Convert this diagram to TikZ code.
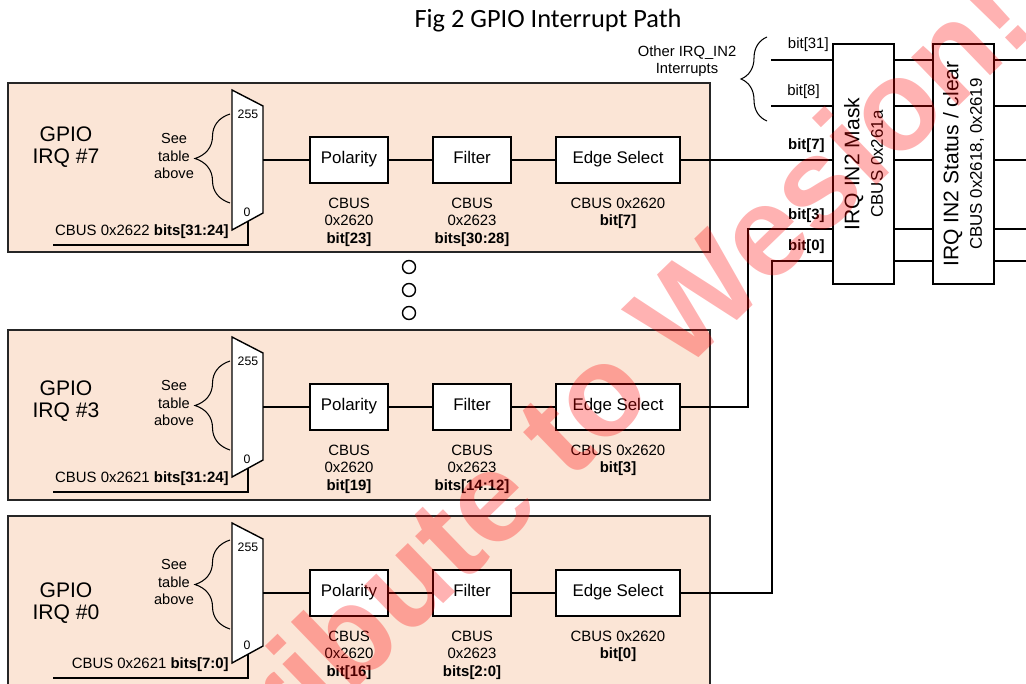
\documentclass[tikz,border=0pt]{standalone}
\usepackage{fontspec}
\setmainfont{Liberation Sans}
\newfontfamily\titlefont{Carlito}
\usetikzlibrary{calc, positioning, decorations.pathreplacing}
\definecolor{gpiofill}{HTML}{FBE5D6}
\definecolor{wmred}{HTML}{FF0000}
\tikzset{
  gpioframe/.style = {draw=black!85, line width=0.9pt, fill=gpiofill},
  stagebox/.style  = {draw, fill=white, line width=0.8pt, minimum height=0.92cm,
                      inner sep=0pt, text height=7pt, text depth=3.5pt,
                      font=\fontsize{9.6}{11}\selectfont},
  ctlbox/.style    = {draw, fill=white, line width=0.8pt, minimum width=1.22cm,
                      minimum height=4.8cm, inner sep=0pt},
  ctltext/.style   = {align=center, inner sep=0pt, rotate=90,
                      font=\fontsize{12}{13.3}\selectfont},
  muxshape/.style  = {draw, fill=white, line width=0.8pt, line join=miter},
  muxnum/.style    = {font=\fontsize{7}{8}\selectfont, inner sep=0pt},
  gpiolabel/.style = {align=center, inner sep=0pt, font=\fontsize{12}{12.5}\selectfont},
  seetext/.style   = {align=center, inner sep=0pt, font=\fontsize{8.3}{10.2}\selectfont},
  regtext/.style   = {align=center, inner sep=0pt, font=\fontsize{8.5}{9.9}\selectfont},
  seltext/.style   = {inner sep=0pt, font=\fontsize{8.5}{10}\selectfont},
  bitlab/.style    = {inner sep=0pt, font=\fontsize{8.5}{10}\selectfont},
  bracepen/.style  = {line width=0.6pt, decorate},
  wire/.style      = {line width=0.75pt},
  dotmark/.style   = {circle, draw, line width=0.8pt, minimum size=0.26cm, inner sep=0pt},
  titletext/.style = {inner sep=0pt, font=\titlefont\fontsize{15}{18}\selectfont},
  watermark/.style = {inner sep=0pt, text=wmred, text opacity=0.3,
                      font=\fontsize{73}{80}\selectfont\bfseries},
}

\begin{document}
\begin{tikzpicture}[x=0.02cm, y=-0.02cm]
  \useasboundingbox (0,0) rectangle (1026,683);
  \node[titletext] (title) at (548,21) {Fig 2 GPIO Interrupt Path};

  % one row per GPIO interrupt
  \foreach \r/\oy/\h/\gy/\by/\sel/\pb/\fb/\eb in {
      7/0/169/0/0/{CBUS 0x2622 \textbf{bits[31:24]}}/bit[23]/bits[30:28]/bit[7],
      3/247/170/7/0/{CBUS 0x2621 \textbf{bits[31:24]}}/bit[19]/bits[14:12]/bit[3],
      0/433/260/23/-7/{CBUS 0x2621 \textbf{bits[7:0]}}/bit[16]/bits[2:0]/bit[0]}
  {
    \draw[gpioframe] (8,83+\oy) rectangle (710,83+\oy+\h);
    \node[gpiolabel] (gpio\r) at (66,147+\oy+\gy) {GPIO\\IRQ \#\r};
    \node[seetext] (see\r) at (174,156+\oy+\by) {See\\table\\above};
    \draw[bracepen, decoration={brace, amplitude=0.7cm}]
      (230,203+\oy+\by) -- (230,114+\oy+\by);
    \draw[muxshape] (232,90+\oy) -- (263,106+\oy) -- (263,213+\oy)
      -- (232,230+\oy) -- cycle;
    \node[muxnum] (hi\r) at (248,114+\oy) {255};
    \node[muxnum] (lo\r) at (247,212+\oy) {0};
    \coordinate (muxout\r) at (263,160+\oy);
    \coordinate (muxsel\r) at (248,221+\oy);
    \coordinate (selend\r) at (53,245+\oy);
    \node[seltext, anchor=east] (sel\r) at (229,232+\oy) {\sel};
    \node[stagebox, minimum width=1.56cm] (pol\r)  at (349,160+\oy) {Polarity};
    \node[stagebox, minimum width=1.56cm] (fil\r)  at (472,160+\oy) {Filter};
    \node[stagebox, minimum width=2.48cm] (edge\r) at (618,160+\oy) {Edge Select};
    \draw[wire] (muxout\r) -- (pol\r);
    \draw[wire] (pol\r) -- (fil\r);
    \draw[wire] (fil\r) -- (edge\r);
    \draw[wire] (muxsel\r) |- (selend\r);
    \node[regtext, below=0.28cm of pol\r]  (polreg\r)  {CBUS\\0x2620\\\textbf{\pb}};
    \node[regtext, below=0.28cm of fil\r]  (filreg\r)  {CBUS\\0x2623\\\textbf{\fb}};
    \node[regtext, below=0.28cm of edge\r] (edgereg\r) {CBUS 0x2620\\\textbf{\eb}};
  }
  \foreach \y [count=\k] in {267,290,313}
    {\node[dotmark] (more\k) at (409,\y) {};}

  \node[ctlbox] (mask) at (863.5,164) {};
  \node[ctlbox] (stat) at (963.5,164) {};
  \node[ctltext] (masktxt) at (mask.center)
    {IRQ IN2 Mask\\{\fontsize{9.6}{11}\selectfont CBUS 0x261a}};
  \node[ctltext] (stattxt) at (stat.center)
    {IRQ IN2 Status / clear\\{\fontsize{9.6}{11}\selectfont CBUS 0x2618, 0x2619}};

  \coordinate (oth31) at (771,60);
  \coordinate (oth8)  at (771,106);
  \draw[wire] (oth31) -- (oth31 -| mask.west);
  \draw[wire] (oth8) -- (oth8 -| mask.west);
  \draw[bracepen, decoration={brace, amplitude=0.52cm}] (767,121) -- (767,37);
  \node[seetext, font=\fontsize{8.4}{9.6}\selectfont] (other) at (687,61)
    {Other IRQ\_IN2\\Interrupts};

  \coordinate (jog3) at (748,229);
  \coordinate (jog0) at (772,261);
  \draw[wire] (edge7) -- (edge7 -| mask.west);
  \draw[wire] (edge3.east) -| (jog3) -- (jog3 -| mask.west);
  \draw[wire] (edge0.east) -| (jog0) -- (jog0 -| mask.west);

  \foreach \y [count=\i] in {60,106,160,229,261}
  {
    \coordinate (lv\i) at (1026,\y);
    \draw[wire] (mask.east |- lv\i) -- (stat.west |- lv\i);
    \draw[wire] (stat.east |- lv\i) -- (lv\i);
  }

  \node[bitlab, anchor=east] (b31) at (829,45)  {bit[31]};
  \node[bitlab, anchor=east] (b8)  at (820,92)  {bit[8]};
  \node[bitlab, anchor=east] (b7)  at (825,146) {\textbf{bit[7]}};
  \node[bitlab, anchor=east] (b3)  at (825,216) {\textbf{bit[3]}};
  \node[bitlab, anchor=east] (b0)  at (825,247) {\textbf{bit[0]}};

  \begin{scope}
    \clip (0,0) rectangle (1026,683);
    \node[watermark, rotate=44, anchor=base west] (wm) at (113,923)
      {Distribute to Wesion!};
  \end{scope}
\end{tikzpicture}
\end{document}
